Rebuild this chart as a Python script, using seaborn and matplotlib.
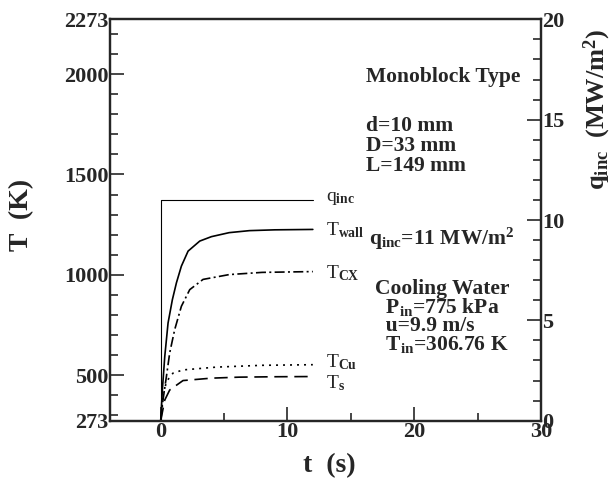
import matplotlib
matplotlib.use("Agg")
import matplotlib.pyplot as plt
from matplotlib.ticker import MultipleLocator
import seaborn as sns

# ---- data ----
t_q = [0, 0, 12]
q_inc = [0, 11, 11]

t_wall = [0, 0.13, 0.32, 0.58, 0.92, 1.24, 1.63, 2.16, 3.08, 4.0, 5.4, 7.0, 9.0, 12.0]
T_wall = [273, 426, 593, 760, 876, 960, 1043, 1118, 1168, 1190, 1210, 1220, 1224, 1226]

t_cx = [0, 0.05, 0.18, 0.45, 0.71, 1.1, 1.63, 2.29, 3.34, 5.4, 8.0, 12.0]
T_cx = [273, 300, 376, 493, 611, 726, 843, 926, 977, 1001, 1012, 1016]

t_cu = [0, 0.18, 0.45, 0.97, 1.76, 4.4, 8.0, 12.0]
T_cu = [273, 393, 468, 510, 526, 540, 549, 552]

t_s = [0, 0.32, 0.71, 1.76, 4.0, 6.2, 9.0, 12.0]
T_s = [273, 376, 426, 473, 485, 490, 492, 493]

T_major = [273, 500, 1000, 1500, 2000, 2273]
t_major = [0, 10, 20, 30]
q_major = [0, 5, 10, 15, 20]

sns.set_style("ticks")
plt.rcParams["font.family"] = ["Liberation Serif", "DejaVu Serif"]
plt.rcParams["mathtext.fontset"] = "custom"
plt.rcParams["mathtext.rm"] = "Liberation Serif"
plt.rcParams["mathtext.it"] = "Liberation Serif:italic"
plt.rcParams["mathtext.bf"] = "Liberation Serif:bold"

fig, ax = plt.subplots(figsize=(6.14, 4.84), dpi=100)
fig.subplots_adjust(left=110/614, right=541/614, top=1-19.3/484, bottom=1-420.7/484)
ax2 = ax.twinx()

lw = 1.2
sns.lineplot(x=t_wall, y=T_wall, ax=ax, color="black", lw=lw, linestyle="-", sort=False, estimator=None)
sns.lineplot(x=t_cx, y=T_cx, ax=ax, color="black", lw=lw, sort=False, estimator=None).lines[-1].set_dashes([6, 2, 1.2, 2])
sns.lineplot(x=t_cu, y=T_cu, ax=ax, color="black", lw=lw, sort=False, estimator=None).lines[-1].set_dashes([1.2, 3])
sns.lineplot(x=t_s, y=T_s, ax=ax, color="black", lw=lw, sort=False, estimator=None).lines[-1].set_dashes([8, 4])
sns.lineplot(x=t_q, y=q_inc, ax=ax2, color="black", lw=0.8, sort=False, estimator=None)

ax.set_xlim(-4, 30)
ax.set_ylim(273, 2273)
ax2.set_ylim(0, 20)

ax.set_xticks(t_major)
ax.xaxis.set_minor_locator(MultipleLocator(5))
ax.set_yticks(T_major)
ax.yaxis.set_minor_locator(MultipleLocator(100))
ax2.set_yticks(q_major)
ax2.yaxis.set_minor_locator(MultipleLocator(1))

for a in (ax, ax2):
    a.tick_params(which="major", direction="in", length=10, width=1.2, labelsize=16, pad=1)
    a.tick_params(which="minor", direction="in", length=6, width=1.2)
    for lab in a.get_xticklabels() + a.get_yticklabels():
        lab.set_fontweight("bold")
ax.tick_params(axis="both", which="both", top=False, right=False)
ax2.tick_params(axis="y", which="both", left=False, right=True)
for a in (ax, ax2):
    for s in a.spines.values():
        s.set_linewidth(1.6)
        s.set_visible(True)

ax.set_xlabel("t  (s)", fontsize=20, fontweight="bold")
ax.set_ylabel("T  (K)", fontsize=20, fontweight="bold")
ax.xaxis.set_label_coords(0.51, -0.08)
ax.yaxis.set_label_coords(-0.175, 0.513)
ax2.set_ylabel(r"$\mathbf{q_{inc}}$  (MW/m$^{\mathbf{2}}$)", fontsize=19, fontweight="bold")
ax2.yaxis.set_label_coords(1.095, 0.775)

# curve labels
lab_kw = dict(fontsize=14, va="center", ha="left")
ax2.text(13.0, 11.05, r"q$_{\mathbf{inc}}$", **lab_kw)
ax.text(13.0, 1220, r"T$_{\mathbf{wall}}$", **lab_kw)
ax.text(13.0, 1010, r"T$_{\mathbf{CX}}$", **lab_kw)
ax.text(13.0, 565, r"T$_{\mathbf{Cu}}$", **lab_kw)
ax.text(13.0, 462, r"T$_{\mathbf{s}}$", **lab_kw)

# annotation text
bkw = dict(fontsize=15.5, fontweight="bold", ha="left", transform=ax.transAxes)
def fx(px):
    return (px - 110) / 431
def fy(py):
    return (420.7 - py) / 401.4
ax.text(fx(366), fy(77), "Monoblock Type", va="center", **bkw)
ax.text(fx(366), fy(116), "d=10 mm\nD=33 mm\nL=149 mm", va="top", linespacing=1.0, **bkw)
ax.text(fx(369), fy(239), r"$\mathbf{q_{inc}}$=11 MW/m$^{\mathbf{2}}$", va="center", **bkw)
ax.text(fx(375), fy(279),
        "Cooling Water\n" + r"  P$_{\mathbf{in}}$=775 kPa" + "\n  u=9.9 m/s\n" + r"  T$_{\mathbf{in}}$=306.76 K",
        va="top", linespacing=0.85, **bkw)

fig.savefig("out.png", dpi=100)
